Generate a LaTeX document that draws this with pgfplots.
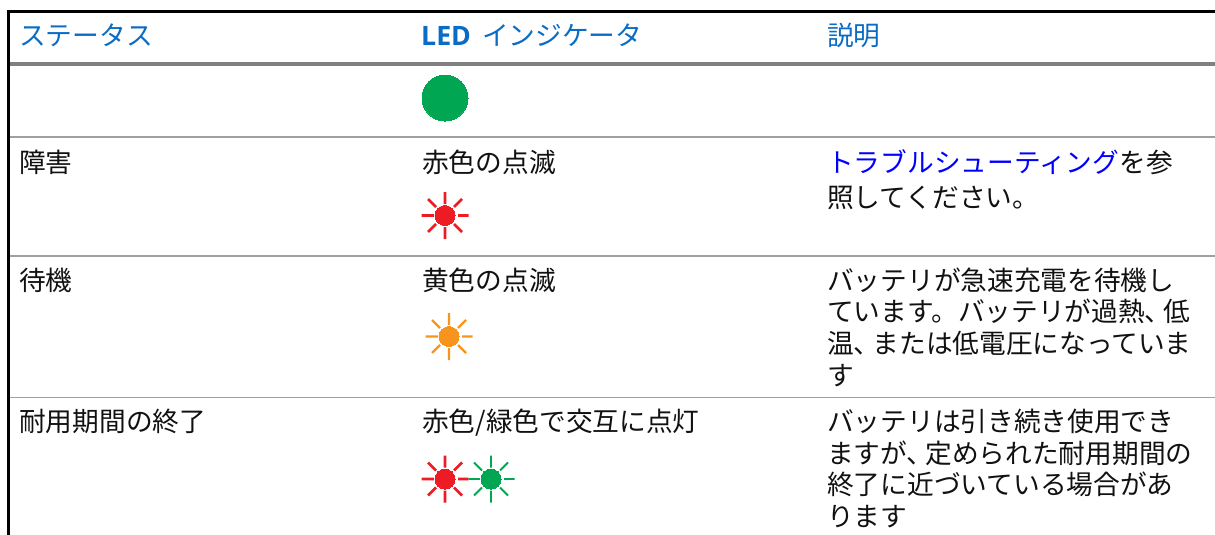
\documentclass[border=0pt]{standalone}
\usepackage{pgfplots}
\pgfplotsset{compat=1.18}
\usepackage{fontspec}
\setmainfont{Noto Sans CJK JP}
\newfontfamily\latinb{Open Sans}
\definecolor{hdr}{HTML}{0A6CC4}
\definecolor{lnk}{HTML}{0000FF}
\definecolor{txt}{HTML}{111111}
\definecolor{gr}{HTML}{00A651}
\definecolor{rd}{HTML}{ED1C24}
\definecolor{or}{HTML}{F7941D}
\definecolor{rule1}{HTML}{808080}
\definecolor{rule2}{HTML}{A0A0A0}
\newcommand{\hc}{、\kern-8pt}
\tikzset{tl/.style={anchor=base west,inner sep=0pt,font=\fontsize{26.7}{26.7}\selectfont,text=txt},
  hl/.style={tl,text=hdr}}
\begin{document}
\begin{tikzpicture}[x=1pt,y=1pt]
\path[use as bounding box] (0,0) rectangle (1215pt,535pt);
\begin{axis}[at={(0,0)},anchor=south west,scale only axis,width=1215pt,height=535pt,
  xmin=0,xmax=1215,ymin=0,ymax=535,y dir=reverse,hide axis,unbounded coords=jump,
  every axis plot/.append style={mark=none}]
% rules
\addplot[black,line width=3pt] coordinates {(7.5,11.5)(1215,11.5)};
\addplot[black,line width=2.5pt] coordinates {(8.7,10)(8.7,535)};
\addplot[rule1,line width=4pt] coordinates {(10,64)(1215,64)};
\addplot[rule2,line width=1.5pt] coordinates {(10,137)(1215,137)};
\addplot[rule2,line width=1.5pt] coordinates {(10,256)(1215,256)};
\addplot[rule2,line width=1.5pt] coordinates {(10,397.5)(1215,397.5)};
% solid LED
\addplot[only marks,color=gr,mark=*,mark size=23pt,mark options={fill=gr,draw=gr,line width=0pt}] coordinates {(445,98)};
% sun 1 red
\addplot[rd,line width=2.7pt] coordinates {(421.5,215.5)(434,215.5)(0,nan)(458,215.5)(468.5,215.5)(0,nan)(445,192)(445,204)(0,nan)(445,227)(445,239)(0,nan)(428,199)(436,207)(0,nan)(454,224)(462,232)(0,nan)(462,199)(454,207)(0,nan)(436,224)(428,232)};
\addplot[only marks,color=rd,mark=*,mark size=10pt,mark options={fill=rd,draw=rd,line width=0pt}] coordinates {(445,215.5)};
% sun 2 orange
\addplot[or,line width=2.2pt] coordinates {(425.5,336.5)(438,336.5)(0,nan)(462,336.5)(472.5,336.5)(0,nan)(449,313)(449,325)(0,nan)(449,348)(449,360)(0,nan)(432,320)(440,328)(0,nan)(458,345)(466,353)(0,nan)(466,320)(458,328)(0,nan)(440,345)(432,353)};
\addplot[only marks,color=or,mark=*,mark size=10pt,mark options={fill=or,draw=or,line width=0pt}] coordinates {(449,336.5)};
% sun 3 red
\addplot[rd,line width=2.7pt] coordinates {(421.5,479)(434,479)(0,nan)(458,479)(468.5,479)(0,nan)(445,455.5)(445,467.5)(0,nan)(445,490.5)(445,502.5)(0,nan)(428,462.5)(436,470.5)(0,nan)(454,487.5)(462,495.5)(0,nan)(462,462.5)(454,470.5)(0,nan)(436,487.5)(428,495.5)};
\addplot[only marks,color=rd,mark=*,mark size=10pt,mark options={fill=rd,draw=rd,line width=0pt}] coordinates {(445,479)};
% sun 4 green
\addplot[gr,line width=1.9pt] coordinates {(468.5,479)(480,479)(0,nan)(504,479)(514.5,479)(0,nan)(491,455.5)(491,467.5)(0,nan)(491,490.5)(491,502.5)(0,nan)(474,462.5)(482,470.5)(0,nan)(500,487.5)(508,495.5)(0,nan)(508,462.5)(500,470.5)(0,nan)(482,487.5)(474,495.5)};
\addplot[only marks,color=gr,mark=*,mark size=10pt,mark options={fill=gr,draw=gr,line width=0pt}] coordinates {(491,479)};
% header
\node[hl] at (axis cs:19,46) {ステータス};
\node[hl] at (axis cs:421,46) {{\latinb\bfseries LED}\kern11pt インジケータ};
\node[hl] at (axis cs:827,46) {説明};
% column 1
\node[tl] at (axis cs:19,172) {障害};
\node[tl] at (axis cs:19,290) {待機};
\node[tl] at (axis cs:19,431) {耐用期間の終了};
% column 2
\node[tl] at (axis cs:422,172) {赤色の点滅};
\node[tl] at (axis cs:422,290) {黄色の点滅};
\node[tl] at (axis cs:422,431) {赤色/緑色で交互に点灯};
% column 3
\node[tl] at (axis cs:827,172) {\textcolor{lnk}{トラブルシューティング}を参};
\node[tl] at (axis cs:827,207) {照してください。};
\node[tl] at (axis cs:827,290) {バッテリが急速充電を待機し};
\node[tl] at (axis cs:827,321) {ています。バッテリが過熱\hc 低};
\node[tl] at (axis cs:827,353) {温\hc または低電圧になっていま};
\node[tl] at (axis cs:827,385) {す};
\node[tl] at (axis cs:827,431) {バッテリは引き続き使用でき};
\node[tl] at (axis cs:827,463) {ますが\hc 定められた耐用期間の};
\node[tl] at (axis cs:827,494) {終了に近づいている場合があ};
\node[tl] at (axis cs:827,526) {ります};
\end{axis}
\end{tikzpicture}
\end{document}
